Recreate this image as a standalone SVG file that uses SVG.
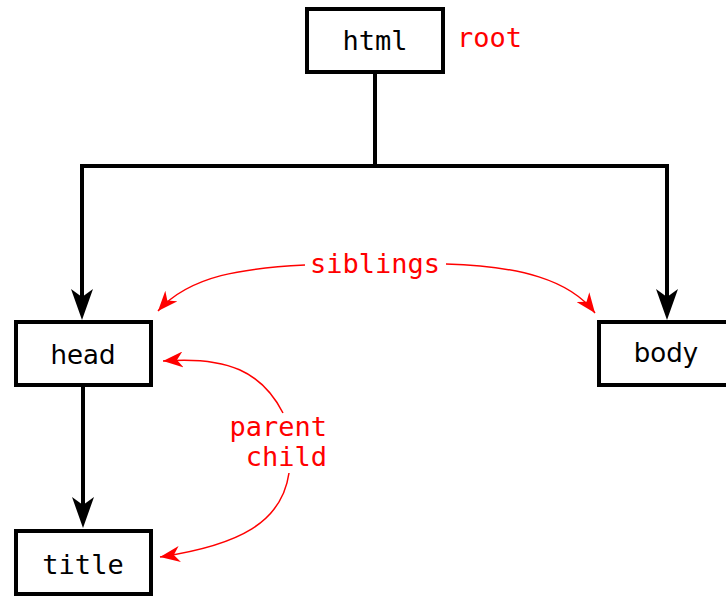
<svg xmlns="http://www.w3.org/2000/svg" width="726" height="597" viewBox="0 0 726 597">
  <style>
    .box { fill: #fff; stroke: #000; stroke-width: 4; }
    .mono { font-family: "DejaVu Sans Mono", "Liberation Mono", monospace; font-size: 27px; }
    .sans { font-family: "DejaVu Sans", "Liberation Sans", sans-serif; font-size: 26px; }
    .label { fill: #000; text-anchor: middle; }
    .note { fill: #ff0000; font-family: "DejaVu Sans Mono", "Liberation Mono", monospace; font-size: 27px; }
    .edge { fill: none; stroke: #000; stroke-width: 4; stroke-linejoin: miter; }
    .rel { fill: none; stroke: #ff0000; stroke-width: 1.5; }
  </style>
  <defs>
    <marker id="arrow" markerUnits="userSpaceOnUse" viewBox="0 0 32 22" refX="19" refY="11" markerWidth="32" markerHeight="22" orient="auto">
      <path d="M31,11 L0,0 L8,11 L0,22 Z" fill="#000"/>
    </marker>
    <marker id="redArrow" markerUnits="userSpaceOnUse" viewBox="0 0 21 16" refX="20" refY="8" markerWidth="21" markerHeight="16" orient="auto">
      <path d="M20,8 L0,0 L6,8 L0,16 Z" fill="#ff0000"/>
    </marker>
  </defs>

  <g id="connectors">
    <path class="edge" d="M375,72 V166 H82 V308" marker-end="url(#arrow)"/>
    <path class="edge" d="M373,166 H667 V308" marker-end="url(#arrow)"/>
    <path class="edge" d="M83,387 V516" marker-end="url(#arrow)"/>
    <path class="rel" d="M305,265 C245,268 190,275 158,311" marker-end="url(#redArrow)"/>
    <path class="rel" d="M446,264 C520,266 570,280 595,313" marker-end="url(#redArrow)"/>
    <path class="rel" d="M283,413 C262,372 228,356 163,361" marker-end="url(#redArrow)"/>
    <path class="rel" d="M289,473 C282,522 240,545 160,557" marker-end="url(#redArrow)"/>
  </g>

  <g id="html">
    <rect class="box" x="307" y="9" width="136" height="63"/>
    <text class="mono label" x="375" y="50">html</text>
    <text class="note" x="457" y="47">root</text>
  </g>
  <g id="head">
    <rect class="box" x="16" y="322" width="135" height="63"/>
    <text class="sans label" x="83" y="364">head</text>
  </g>
  <g id="body">
    <rect class="box" x="599" y="322" width="136" height="63"/>
    <text class="sans label" x="666" y="362">body</text>
  </g>
  <g id="title">
    <rect class="box" x="16" y="531" width="135" height="63"/>
    <text class="mono label" x="83" y="574">title</text>
  </g>

  <g id="relations">
    <text class="note" x="375" y="273" text-anchor="middle">siblings</text>
    <text class="note" x="327" y="436" text-anchor="end">parent</text>
    <text class="note" x="327" y="466" text-anchor="end">child</text>
  </g>
</svg>
